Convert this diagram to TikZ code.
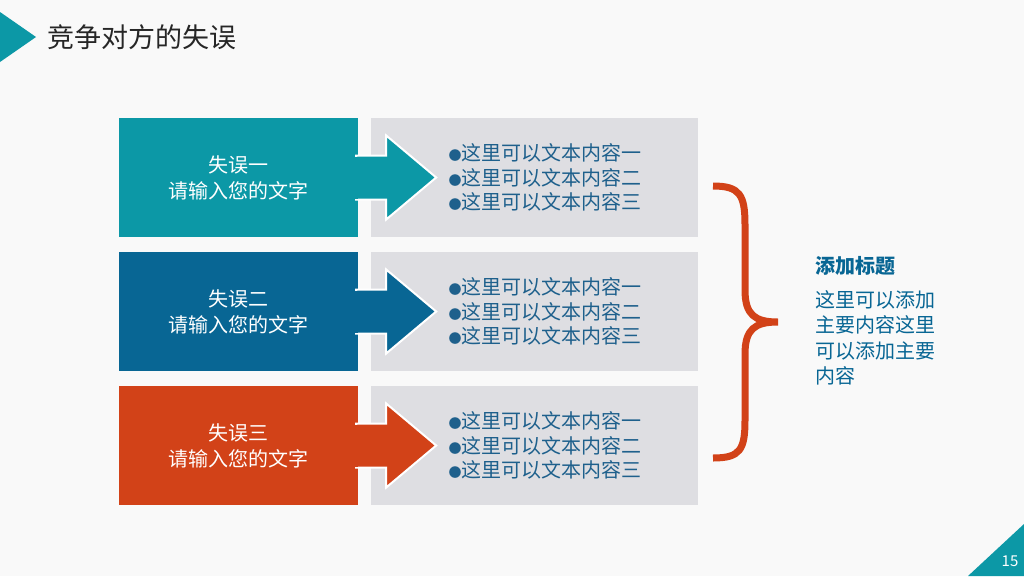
\documentclass[tikz,border=0pt]{standalone}
\usepackage{fontspec}
\setmainfont{Noto Sans CJK SC}
\usetikzlibrary{calc}
\definecolor{mistaketeal}{RGB}{12,152,166}
\definecolor{mistakeblue}{RGB}{8,102,148}
\definecolor{mistakered}{RGB}{210,66,24}
\definecolor{panelgray}{RGB}{222,222,226}
\definecolor{itemblue}{RGB}{30,96,140}
\newcommand{\dotmark}{{\fontsize{13}{13}\selectfont ●}}
\tikzset{
  leftbox/.style={minimum width=239pt, minimum height=119pt, inner sep=0pt, text=white,
    align=center, font=\fontsize{20}{26}\selectfont},
  panelbox/.style={fill=panelgray, minimum width=327pt, minimum height=119pt, inner sep=0pt},
  itemlist/.style={text=itemblue, align=left, font=\fontsize{20}{24.5}\selectfont, anchor=west}
}
\begin{document}
\begin{tikzpicture}[x=1pt,y=-1pt]
  \useasboundingbox (0,0) rectangle (1024,576);
  \fill[white!95!gray] (0,0) rectangle (1024,576);
  % 标题
  \fill[mistaketeal] (0,12) -- (36,37) -- (0,62) -- cycle;
  \node[anchor=west, font=\fontsize{27}{30}\selectfont, text=black!85] (title) at (44,37) {竞争对方的失误};
  % 三行
  \foreach \i/\col/\name/\num in {0/mistaketeal/one/一, 1/mistakeblue/two/二, 2/mistakered/three/三} {
    \pgfmathsetmacro{\cy}{177.5+134*\i}
    \node[panelbox] (panel\name) at (534.5,\cy) {};
    \node[leftbox, fill=\col] (box\name) at (238.5,\cy) {失误\num\\请输入您的文字};
    \fill[\col, draw=white, line width=2pt]
      ($(box\name.east)+(-2,-22)$) -- ++(30,0) -- ++(0,-20) -- ++(50,42)
      -- ++(-50,42) -- ++(0,-20) -- ++(-30,0) -- cycle;
    \fill[\col] ($(box\name.east)+(-3,-21)$) rectangle ($(box\name.east)+(0,21)$);
    \node[itemlist] (items\name) at (445,\cy) {\dotmark 这里可以文本内容一\\\dotmark 这里可以文本内容二\\\dotmark 这里可以文本内容三};
  }
  % 大括号
  \draw[mistakered, line width=7pt] (713,186) .. controls (740,186) and (745,195) .. (745,225)
    -- (745,290) .. controls (745,315) and (755,322) .. (778,322)
    .. controls (755,322) and (745,329) .. (745,354) -- (745,420)
    .. controls (745,450) and (740,458) .. (713,458);
  \node[anchor=west, text=mistakeblue, font=\fontsize{20}{24}\selectfont\bfseries] (heading) at (812,266) {添加标题};
  \node[anchor=north west, text=mistakeblue, align=left, font=\fontsize{20}{25.5}\selectfont] (body) at (812,287)
    {这里可以添加\\主要内容这里\\可以添加主要\\内容};
  % 页码
  \fill[mistaketeal] (1024,524) -- (1024,576) -- (968,576) -- cycle;
  \node[text=white, font=\fontsize{15}{18}\selectfont] (page) at (1010,561) {15};
\end{tikzpicture}
\end{document}
